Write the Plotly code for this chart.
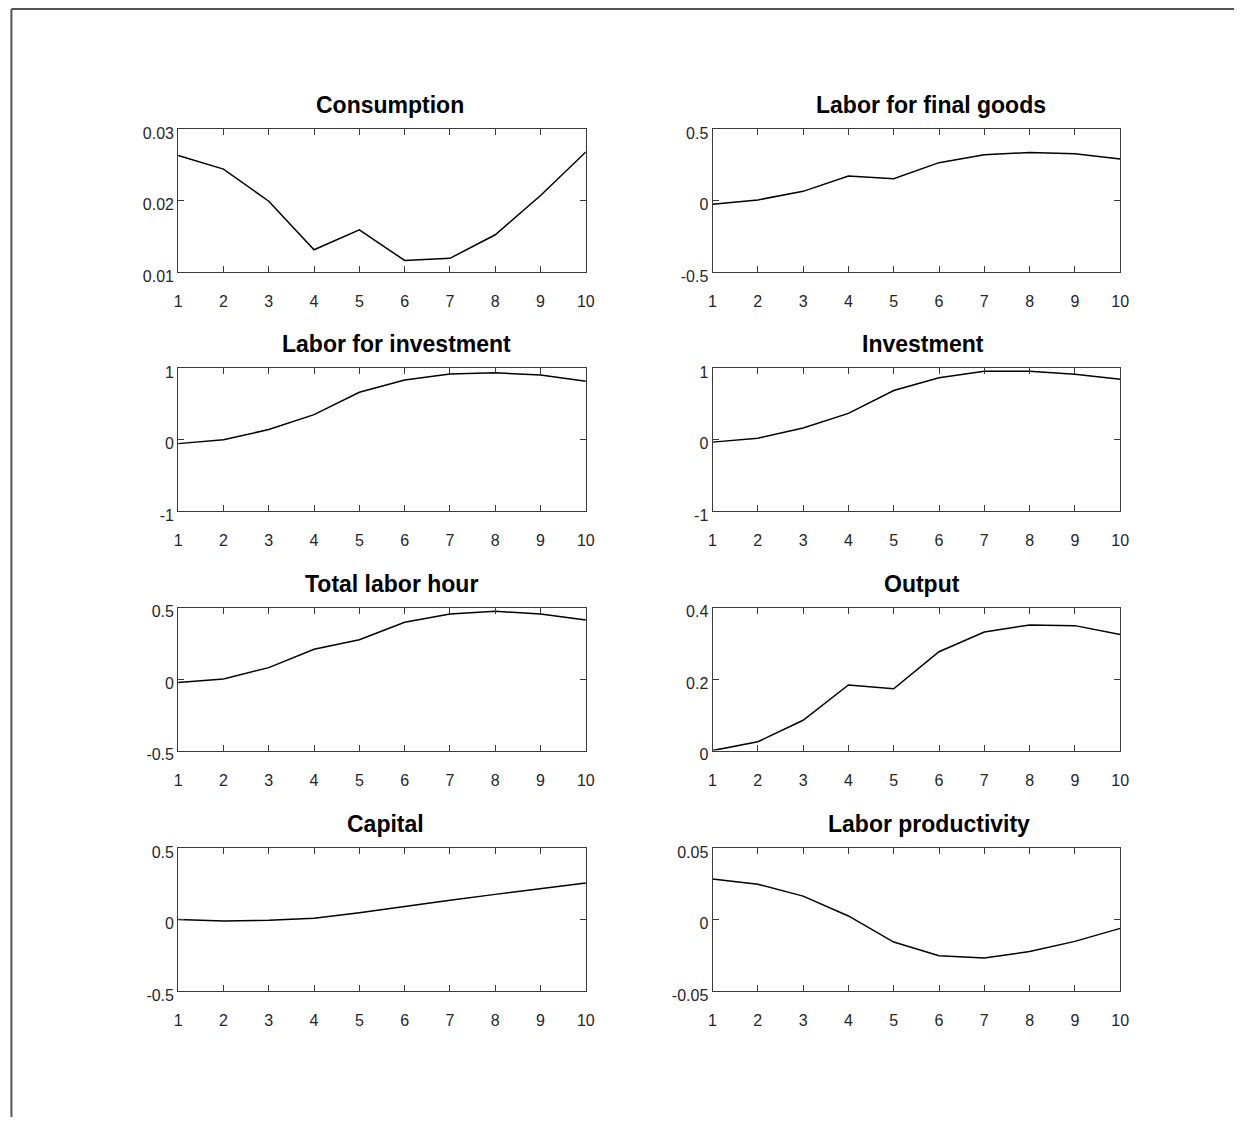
import plotly.graph_objects as go

# Impulse responses over 10 periods
periods = list(range(1, 11))

consumption = [0.0263, 0.0244, 0.0199, 0.0131, 0.0159, 0.0116, 0.0119, 0.0152, 0.0207, 0.0268]
labor_final = [-0.027, 0.004, 0.064, 0.171, 0.153, 0.265, 0.320, 0.336, 0.327, 0.290]
labor_invest = [-0.053, 0.0, 0.145, 0.353, 0.667, 0.838, 0.921, 0.940, 0.907, 0.820]
investment = [-0.032, 0.023, 0.166, 0.370, 0.690, 0.870, 0.960, 0.960, 0.920, 0.850]
total_labor = [-0.024, 0.001, 0.081, 0.209, 0.276, 0.399, 0.456, 0.475, 0.456, 0.415]
output = [0.0, 0.0247, 0.085, 0.184, 0.173, 0.277, 0.332, 0.352, 0.350, 0.325]
capital = [0.0, -0.011, -0.005, 0.009, 0.048, 0.094, 0.135, 0.176, 0.215, 0.256]
labor_prod = [0.0283, 0.0247, 0.0164, 0.0025, -0.0158, -0.0253, -0.0269, -0.0224, -0.0153, -0.0062]

titles = ["Consumption", "Labor for final goods", "Labor for investment", "Investment",
          "Total labor hour", "Output", "Capital", "Labor productivity"]

x_ticks = [1, 2, 3, 4, 5, 6, 7, 8, 9, 10]
x_tick_text = ["1", "2", "3", "4", "5", "6", "7", "8", "9", "10"]

y_ticks_cons = [0.01, 0.02, 0.03]
y_text_cons = ["0.01", "0.02", "0.03"]
y_ticks_half = [-0.5, 0, 0.5]
y_text_half = ["-0.5", "0", "0.5"]
y_ticks_one = [-1, 0, 1]
y_text_one = ["-1", "0", "1"]
y_ticks_out = [0, 0.2, 0.4]
y_text_out = ["0", "0.2", "0.4"]
y_ticks_prod = [-0.05, 0, 0.05]
y_text_prod = ["-0.05", "0", "0.05"]

panels = [
    (consumption, y_ticks_cons, y_text_cons),
    (labor_final, y_ticks_half, y_text_half),
    (labor_invest, y_ticks_one, y_text_one),
    (investment, y_ticks_one, y_text_one),
    (total_labor, y_ticks_half, y_text_half),
    (output, y_ticks_out, y_text_out),
    (capital, y_ticks_half, y_text_half),
    (labor_prod, y_ticks_prod, y_text_prod),
]

# Figure geometry in pixels
W, H = 1243, 1130
COL_LEFT = [176, 716]
COL_W = 412
ROW_TOP = [127, 370, 613, 857]
ROW_H = 145
TITLE_CX = [390, 937, 397, 929, 392, 928, 386, 935]


def px(x):
    return x / W


def py(y):
    return 1 - y / H


FONT = "Liberation Sans, Arial, sans-serif"
AX_COLOR = "#3a3a3a"

fig = go.Figure()
annotations = []
for i, (vals, yt, ytt) in enumerate(panels):
    r, c = divmod(i, 2)
    n = i + 1
    xa = "x" if n == 1 else f"x{n}"
    ya = "y" if n == 1 else f"y{n}"
    fig.add_trace(go.Scatter(x=periods, y=vals, mode="lines",
                             line=dict(color="black", width=1.5),
                             xaxis=xa, yaxis=ya, showlegend=False))
    left = COL_LEFT[c]
    top = ROW_TOP[r]
    xdom = [px(left), px(left + COL_W)]
    ydom = [py(top + ROW_H), py(top)]
    common = dict(showline=True, mirror="ticks", ticks="inside", ticklen=6,
                  tickwidth=1, tickcolor=AX_COLOR, linecolor=AX_COLOR, linewidth=1,
                  showgrid=False, zeroline=False,
                  tickfont=dict(family=FONT, size=16, color="#262626"))
    fig.layout[f"xaxis{'' if n == 1 else n}"] = dict(
        domain=xdom, anchor=ya, range=[x_ticks[0], x_ticks[-1]],
        tickmode="array", tickvals=x_ticks, ticktext=x_tick_text,
        ticklabelstandoff=15, **common)
    fig.layout[f"yaxis{'' if n == 1 else n}"] = dict(
        domain=ydom, anchor=xa, range=[yt[0], yt[-1]],
        tickmode="array", tickvals=yt, ticktext=ytt,
        ticklabelshift=4, **common)
    annotations.append(dict(
        text=f"<b>{titles[i]}</b>", x=px(TITLE_CX[i]), y=py(top),
        xref="paper", yref="paper", xanchor="center", yanchor="bottom",
        yshift=9, showarrow=False,
        font=dict(family=FONT, size=23, color="black")))

# Frame lines along the top and left edge of the canvas
shapes = [
    dict(type="line", xref="paper", yref="paper", x0=px(7.5), x1=1, y0=py(5), y1=py(5),
         line=dict(color="#555555", width=2)),
    dict(type="line", xref="paper", yref="paper", x0=px(7.5), x1=px(7.5), y0=0, y1=py(5),
         line=dict(color="#555555", width=2)),
]

fig.update_layout(width=W, height=H, autosize=False,
                  margin=dict(l=0, r=0, t=0, b=0, pad=0),
                  paper_bgcolor="white", plot_bgcolor="white",
                  annotations=annotations, shapes=shapes,
                  font=dict(family=FONT))

fig.write_html("out.html")
